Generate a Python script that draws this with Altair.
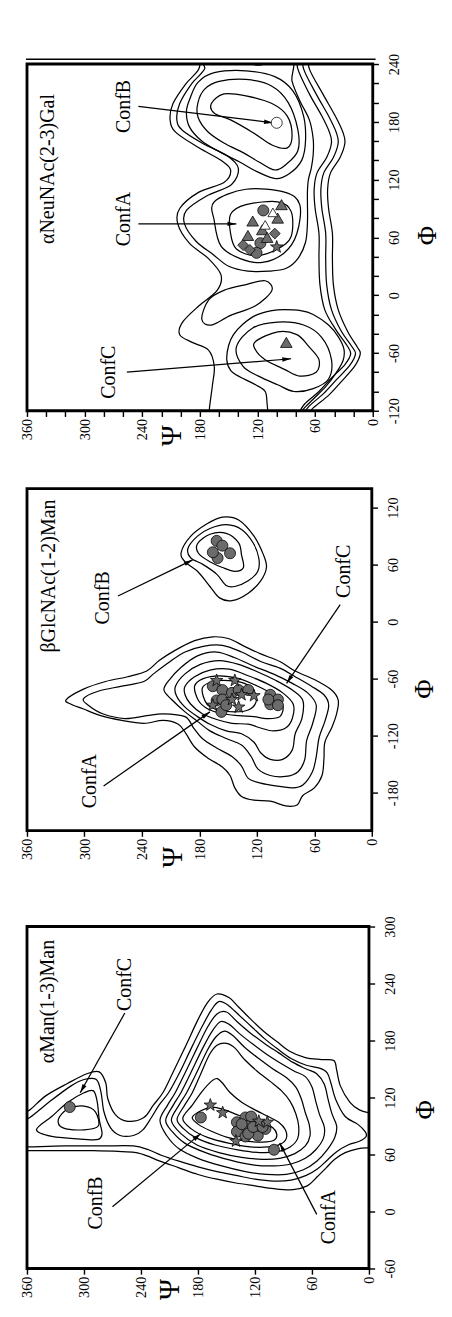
import math
import altair as alt
import pandas as pd

FONT = "Liberation Serif"
GRAY = "#6b6b6b"
STAR = "M0,-1L0.24,-0.33L0.95,-0.31L0.38,0.12L0.59,0.81L0,0.4L-0.59,0.81L-0.38,0.12L-0.95,-0.31L-0.24,-0.33Z"
HEAD = "M0,0L0.42,1.7L-0.42,1.7Z"

# ======================= Panel 1 : aNeuNAc(2-3)Gal =======================
p1_open = {
    "O1": [(181,250),(181,235),(195,219),(208,199),(211,182),(205,169),(181,153),(158,140),(148,130),(155,117),(181,107),(201,90),(203,74),(191,54),(171,38),(158,21),(162,5),(181,-11),(198,-28),(201,-41),(188,-49),(171,-57),(165,-74),(167,-94),(170,-117),(170,-125)],
    "R1": [(66,250),(66,235),(52,209),(39,186),(31,169),(29,158),(34,143),(44,127),(47,110),(46,90),(42,64),(42,38),(41,11),(36,-15),(26,-38),(16,-54),(13,-61),(19,-74),(33,-90),(46,-104),(62,-117),(68,-125)],
    "R2": [(72,250),(72,235),(59,209),(46,186),(38,169),(36,158),(41,143),(51,127),(54,110),(53,90),(49,64),(49,38),(48,11),(43,-15),(33,-37),(22,-53),(18,-61),(24,-73),(38,-88),(51,-102),(66,-115),(73,-125)],
    "R3": [(78,250),(78,235),(66,209),(53,186),(45,169),(43,158),(48,143),(58,127),(61,110),(60,90),(56,64),(56,38),(55,11),(50,-15),(39,-35),(27,-52),(23,-61),(29,-72),(43,-86),(56,-100),(71,-113),(78,-125)],
    "C3": [(109,-125),(110,-113),(112,-100),(122,-93),(138,-85),(148,-78),(152,-67),(150,-52),(145,-41),(135,-30),(122,-21),(105,-16),(92,-15),(75,-16),(62,-20),(46,-31),(36,-43),(30,-56),(31,-68),(39,-82),(49,-95),(61,-107),(72,-118),(77,-125)],
    "D":  [(134,250),(130,243),(122,239),(113,240),(107,245),(104,250)],
}
p1_closed = {
    "O2": [(175,250),(175,235),(189,219),(201,199),(204,182),(198,171),(176,157),(152,145),(140,132),(147,115),(173,103),(194,88),(196,74),(184,56),(166,42),(150,30),(130,25),(108,25),(90,28),(78,38),(70,55),(68,75),(68,95),(68,108),(67,120),(64,132),(62,146),(62,162),(66,182),(76,202),(84,222),(90,250)],
    "B3": [(190,205),(182,221),(165,231),(132,233),(102,227),(83,212),(72,186),(70,160),(74,140),(87,126),(101,121),(120,128),(138,138),(158,148),(178,160),(191,175),(194,191)],
    "B2": [(175,214),(160,222),(132,224),(105,217),(88,200),(78,172),(78,150),(90,136),(102,130),(118,138),(135,148),(155,158),(172,170),(182,185),(182,200)],
    "B1": [(168,199),(155,209),(132,207),(105,199),(89,186),(84,166),(89,153),(105,156),(125,169),(148,182),(165,189)],
    "A2": [(165,97),(132,110),(92,107),(76,94),(79,64),(92,44),(115,34),(138,38),(158,51),(165,77)],
    "A1": [(148,84),(132,94),(99,97),(85,87),(85,61),(99,48),(122,41),(142,48),(148,64)],
    "V1": [(178,-25),(171,-5),(155,5),(132,11),(112,15),(105,5),(122,-11),(148,-21),(168,-31)],
    "C2": [(142,-54),(125,-34),(99,-28),(72,-31),(53,-44),(43,-67),(46,-87),(62,-97),(82,-100),(99,-93),(119,-84),(135,-74)],
    "C1": [(122,-48),(99,-38),(79,-41),(66,-54),(56,-67),(59,-80),(76,-84),(92,-77),(112,-67),(122,-57)],
}
p1_markers = {
    "circle_gray": [(114,88),(117,54),(121,44)],
    "circle_white": [(100,179)],
    "tri_gray": [(95,94),(99,80),(125,77),(115,68),(130,62),(110,60),(90,-49)],
    "tri_white": [(104,86),(112,73)],
    "diamond": [(135,52),(102,64),(128,47)],
    "star": [(100,50)],
}
p1_texts = [("αNeuNAc(2-3)Gal",338,131,21),("ConfB",259,196,21),("ConfA",259,79,21),
            ("ConfC",274,-80,21),("Ψ",209,-146,30),("Φ",-58,62,28)]
p1_arrows = [(244,196,104,179),(244,74,142,74),(256,-80,85,-66)]

# ======================= Panel 2 : bGlcNAc(1-2)Man =======================
p2_open = {}
p2_closed = {
    "B1": [(319,-82),(301,-71),(278,-63),(255,-58),(235,-52),(222,-41),(205,-30),(185,-20),(166,-16),(149,-18),(133,-26),(116,-34),(96,-42),(80,-52),(60,-61),(42,-72),(35,-83),(37,-98),(42,-112),(49,-127),(50,-145),(52,-162),(60,-175),(72,-183),(78,-193),(90,-194),(106,-189),(123,-188),(136,-184),(143,-175),(148,-162),(156,-153),(172,-143),(185,-132),(194,-118),(202,-108),(218,-104),(238,-107),(261,-104),(283,-99),(301,-92),(314,-87)],
    "B2": [(301,-81),(285,-73),(261,-68),(238,-63),(228,-55),(212,-43),(195,-32),(176,-26),(156,-25),(136,-32),(116,-42),(96,-49),(80,-58),(63,-68),(50,-77),(45,-88),(49,-105),(55,-122),(58,-142),(62,-158),(72,-172),(83,-175),(100,-173),(116,-170),(129,-165),(136,-152),(146,-142),(162,-133),(177,-123),(186,-112),(195,-100),(218,-97),(235,-99),(258,-102),(281,-97),(296,-88)],
    "B3": [(217,-72),(212,-62),(199,-48),(182,-36),(162,-32),(143,-38),(123,-47),(103,-55),(83,-65),(67,-75),(58,-88),(62,-108),(68,-125),(70,-145),(77,-158),(90,-163),(106,-162),(119,-155),(126,-142),(136,-130),(152,-123),(169,-115),(182,-105),(195,-95),(209,-82)],
    "B4": [(204,-78),(205,-68),(195,-55),(179,-45),(159,-41),(139,-45),(119,-53),(100,-62),(83,-72),(72,-83),(73,-102),(80,-118),(83,-135),(93,-145),(106,-145),(116,-138),(123,-127),(136,-118),(152,-115),(169,-108),(182,-100),(195,-90)],
    "B5": [(195,-77),(195,-68),(185,-58),(169,-51),(149,-50),(129,-57),(110,-65),(93,-75),(82,-87),(83,-102),(90,-112),(103,-115),(116,-112),(129,-108),(146,-107),(162,-103),(177,-97),(189,-87)],
    "B6": [(181,-83),(185,-68),(176,-60),(159,-57),(139,-60),(119,-68),(103,-77),(93,-88),(96,-100),(110,-102),(123,-100),(139,-99),(156,-97),(171,-92)],
    "B7": [(172,-87),(177,-70),(166,-63),(149,-62),(133,-65),(123,-73),(121,-85),(129,-93),(143,-95),(159,-93)],
    "K3": [(199,73),(189,90),(172,103),(156,110),(139,107),(123,90),(113,70),(110,57),(116,43),(129,30),(146,22),(159,25),(169,37),(182,53),(195,63)],
    "K2": [(192,77),(182,90),(169,98),(152,102),(136,97),(124,83),(118,67),(119,53),(129,43),(143,37),(152,38),(162,50),(176,60),(189,67)],
    "K1": [(182,82),(169,92),(152,93),(139,83),(136,70),(134,57),(143,53),(156,57),(169,63),(181,72)],
}
p2_markers = {
    "circle_gray": [(162,85),(156,80),(148,72),(161,67),(166,73),
                    (166,-68),(156,-72),(162,-83),(156,-82),(157,-95),(146,-75),(139,-72),(129,-72),(152,-88),
                    (106,-77),(98,-82),(106,-87),(98,-88),(108,-82)],
    "star": [(162,-62),(143,-62),(136,-77),(123,-78),(139,-90),(146,-82),(166,-88)],
}
p2_texts = [("βGlcNAc(1-2)Man",337,48,21),("ConfB",280,25,21),("ConfA",294,-168,21),
            ("ConfC",29,53,21),("Ψ",207,-248,30),("Φ",-56,-71,28)]
p2_arrows = [(265,27,187,65),(280,-173,169,-95),(33,18,89,-65)]

# ======================= Panel 3 : aMan(1-3)Man =======================
p3_open = {
    "L1t": [(365,104),(357,107),(340,122),(317,135),(297,145),(284,147),(277,135),(275,119),(267,102),(254,95),(237,99),(227,112),(217,125),(207,145),(194,172),(180,202),(170,220),(160,229),(147,225),(137,215),(124,202),(110,189),(97,179),(84,169),(67,162),(50,160),(37,159),(34,149),(30,132),(20,115),(10,107),(0,104),(-5,104)],
    "L1b": [(365,64),(357,64),(320,64),(290,64),(260,63),(245,62),(232,58),(220,53),(200,46),(180,39),(160,34),(140,30),(120,27),(100,24),(80,23),(65,27),(55,36),(45,46),(36,55),(25,62),(12,66),(0,67),(-5,67)],
    "L2": [(365,97),(357,99),(337,115),(314,132),(300,139),(287,139),(282,125),(279,105),(272,88),(262,80),(248,80),(238,86),(229,99),(221,112),(211,125),(200,145),(187,172),(175,196),(166,212),(158,221),(148,217),(136,206),(123,194),(110,182),(96,171),(82,161),(66,154),(52,151),(44,146),(40,135),(35,118),(25,100),(12,92),(4,84),(3,79),(10,74),(22,70),(34,63),(44,54),(54,45),(66,38),(82,33),(100,32),(120,34),(140,38),(160,42),(180,47),(200,53),(218,59),(232,65),(248,69),(280,69),(320,69),(357,68),(365,68)],
}
p3_closed = {
    "L3": [(220,96),(212,112),(204,125),(194,145),(181,172),(170,194),(160,208),(150,210),(139,200),(125,188),(110,177),(95,167),(80,157),(66,150),(55,145),(47,134),(43,118),(39,103),(34,90),(36,78),(44,65),(55,53),(69,44),(87,39),(108,39),(130,42),(155,48),(180,56),(200,66),(213,80)],
    "L4": [(214,96),(206,112),(198,125),(188,145),(175,172),(165,190),(156,200),(147,197),(136,187),(122,176),(107,165),(93,156),(79,148),(67,142),(60,131),(56,116),(52,102),(47,89),(48,77),(56,65),(67,56),(82,50),(100,48),(122,49),(146,54),(172,62),(194,72),(207,84)],
    "L5": [(208,96),(200,112),(192,125),(182,145),(170,170),(161,184),(152,190),(143,185),(131,173),(116,161),(101,150),(87,141),(77,131),(71,118),(67,104),(63,92),(62,80),(67,69),(78,61),(94,56),(112,55),(134,57),(158,62),(181,70),(198,82)],
    "L6": [(202,97),(194,112),(186,125),(177,145),(168,165),(160,175),(150,177),(141,172),(131,160),(118,148),(104,137),(92,127),(83,116),(77,103),(74,90),(75,77),(83,68),(97,63),(115,62),(138,65),(162,70),(183,78),(195,87)],
    "L7": [(196,98),(186,112),(176,126),(166,137),(160,140),(154,135),(146,125),(134,115),(120,107),(106,100),(95,94),(88,86),(87,77),(93,71),(106,68),(125,68),(148,72),(170,78),(187,87)],
    "L8": [(186,99),(177,106),(165,110),(152,107),(139,102),(125,97),(111,93),(101,88),(97,81),(100,75),(112,73),(129,74),(149,78),(167,85),(180,92)],
    "T":  [(350,86),(334,100),(317,115),(300,125),(290,127),(286,115),(284,97),(281,82),(285,76),(300,76),(334,79)],
    "I":  [(327,97),(317,108),(300,111),(288,105),(285,90),(300,86),(322,88)],
}
p3_markers = {
    "circle_gray": [(315,110),(177,99),(139,94),(130,99),(124,100),(139,84),(129,90),(117,80),(115,90),
                    (109,87),(130,79),(100,65),(134,92),(127,82),(122,89),(112,89)],
    "star": [(167,112),(154,104),(140,74),(107,94),(116,95)],
}
p3_texts = [("αMan(1-3)Man",338,221,21),("ConfC",257,239,21),("ConfB",287,9,21),
            ("ConfA",42,-6,21),("Ψ",209,-82,30),("Φ",-60,107,28)]
p3_arrows = [(257,209,304,125),(270,5,177,82),(55,-3,94,72)]


def contour_frame(dct):
    rows = []
    for name, pts in dct.items():
        for i, (a, b) in enumerate(pts):
            rows.append({"cid": name, "ord": i, "psi": a, "phi": b})
    return pd.DataFrame(rows, columns=["cid", "ord", "psi", "phi"])


def panel(W, H, phi_dom, psi_step, phi_step, opens, closeds, markers, texts, arrows, top_rule=False):
    xs = alt.Scale(domain=[0, 360], reverse=True, nice=False, zero=False)
    ys = alt.Scale(domain=phi_dom, nice=False, zero=False)
    xvals = list(range(0, 361, psi_step))
    lo = int(math.ceil(phi_dom[0] / phi_step) * phi_step)
    yvals = list(range(lo, phi_dom[1] + 1, phi_step))
    common = dict(title=None, labelFont=FONT, labelFontSize=15, labelColor="black",
                  labelFlush=False, labelOverlap=False, tickSize=6, tickWidth=1.5,
                  tickColor="black", domain=False, grid=False, labelAngle=270)
    xax = alt.Axis(orient="bottom", values=xvals,
                   labelExpr="datum.value % 60 === 0 ? '' + datum.value : ''",
                   labelAlign="right", labelBaseline="middle", labelPadding=2, **common)
    yax = alt.Axis(orient="right", values=yvals,
                   labelExpr="datum.value % 60 === 0 ? '' + datum.value : ''",
                   labelAlign="center", labelBaseline="top", labelPadding=9, **common)

    def X(f="psi"):
        return alt.X(f + ":Q", scale=xs, axis=xax)

    def Y(f="phi"):
        return alt.Y(f + ":Q", scale=ys, axis=yax)

    layers = []
    if closeds:
        layers.append(alt.Chart(contour_frame(closeds)).mark_line(
            interpolate="cardinal-closed", color="black", strokeWidth=1.3, clip=True
        ).encode(x=X(), y=Y(), detail="cid:N", order="ord:Q"))
    if opens:
        layers.append(alt.Chart(contour_frame(opens)).mark_line(
            interpolate="cardinal", color="black", strokeWidth=1.3, clip=True
        ).encode(x=X(), y=Y(), detail="cid:N", order="ord:Q"))

    sx = W / 360.0
    sy = H / float(phi_dom[1] - phi_dom[0])
    arows = []
    for (a1, b1, a2, b2) in arrows:
        dx = -(a2 - a1) * sx
        dy = -(b2 - b1) * sy
        ang = math.degrees(math.atan2(dx, -dy)) % 360
        arows.append({"psi": a1, "phi": b1, "psi2": a2, "phi2": b2, "ang": ang})
    adf = pd.DataFrame(arows)
    layers.append(alt.Chart(adf).mark_rule(color="black", strokeWidth=1.3).encode(
        x=X(), y=Y(), x2="psi2:Q", y2="phi2:Q"))
    layers.append(alt.Chart(adf).mark_point(
        shape=HEAD, filled=True, color="black", size=120, opacity=1
    ).encode(x=X("psi2"), y=Y("phi2"), angle=alt.Angle("ang:Q", scale=None)))

    styles = {
        "circle_gray": dict(shape="circle", fill=GRAY, size=135),
        "circle_white": dict(shape="circle", fill="white", size=135),
        "tri_gray": dict(shape="triangle-up", fill=GRAY, size=150),
        "tri_white": dict(shape="triangle-up", fill="white", size=110),
        "diamond": dict(shape="diamond", fill=GRAY, size=130),
        "star": dict(shape=STAR, fill=GRAY, size=190),
    }
    for kind, pts in markers.items():
        st = styles[kind]
        mdf = pd.DataFrame(pts, columns=["psi", "phi"])
        layers.append(alt.Chart(mdf).mark_point(
            shape=st["shape"], filled=True, fill=st["fill"], stroke="black",
            strokeWidth=0.8, size=st["size"], opacity=1
        ).encode(x=X(), y=Y()))

    tdf = pd.DataFrame(texts, columns=["label", "psi", "phi", "fs"])
    layers.append(alt.Chart(tdf).mark_text(
        angle=270, font=FONT, align="center", baseline="middle", color="black"
    ).encode(x=X(), y=Y(), text="label:N", size=alt.Size("fs:Q", scale=None)))

    if top_rule:
        # second (outer) frame line above the top border, as in the scanned figure
        layers.append(alt.Chart(pd.DataFrame({"k": [0]})).mark_rule(
            color="black", strokeWidth=1.5
        ).encode(x=alt.value(-1), x2=alt.value(W + 3), y=alt.value(-5)))

    return alt.layer(*layers).properties(width=W, height=H)


p1 = panel(364, 365, [-120, 240], 20, 20, p1_open, p1_closed, p1_markers, p1_texts, p1_arrows, top_rule=True)
p2 = panel(363, 360, [-220, 140], 60, 60, p2_open, p2_closed, p2_markers, p2_texts, p2_arrows)
p3 = panel(360, 360, [-60, 300], 60, 60, p3_open, p3_closed, p3_markers, p3_texts, p3_arrows)

top = alt.vconcat(p1, p2, spacing=41)
chart = alt.vconcat(top, p3, spacing=47).properties(
    padding={"top": 11, "left": 11, "right": 0, "bottom": 0},
    background="white",
).configure_view(stroke="black", strokeWidth=3)

chart.save("out.html", embed_options={"renderer": "svg", "actions": False})
